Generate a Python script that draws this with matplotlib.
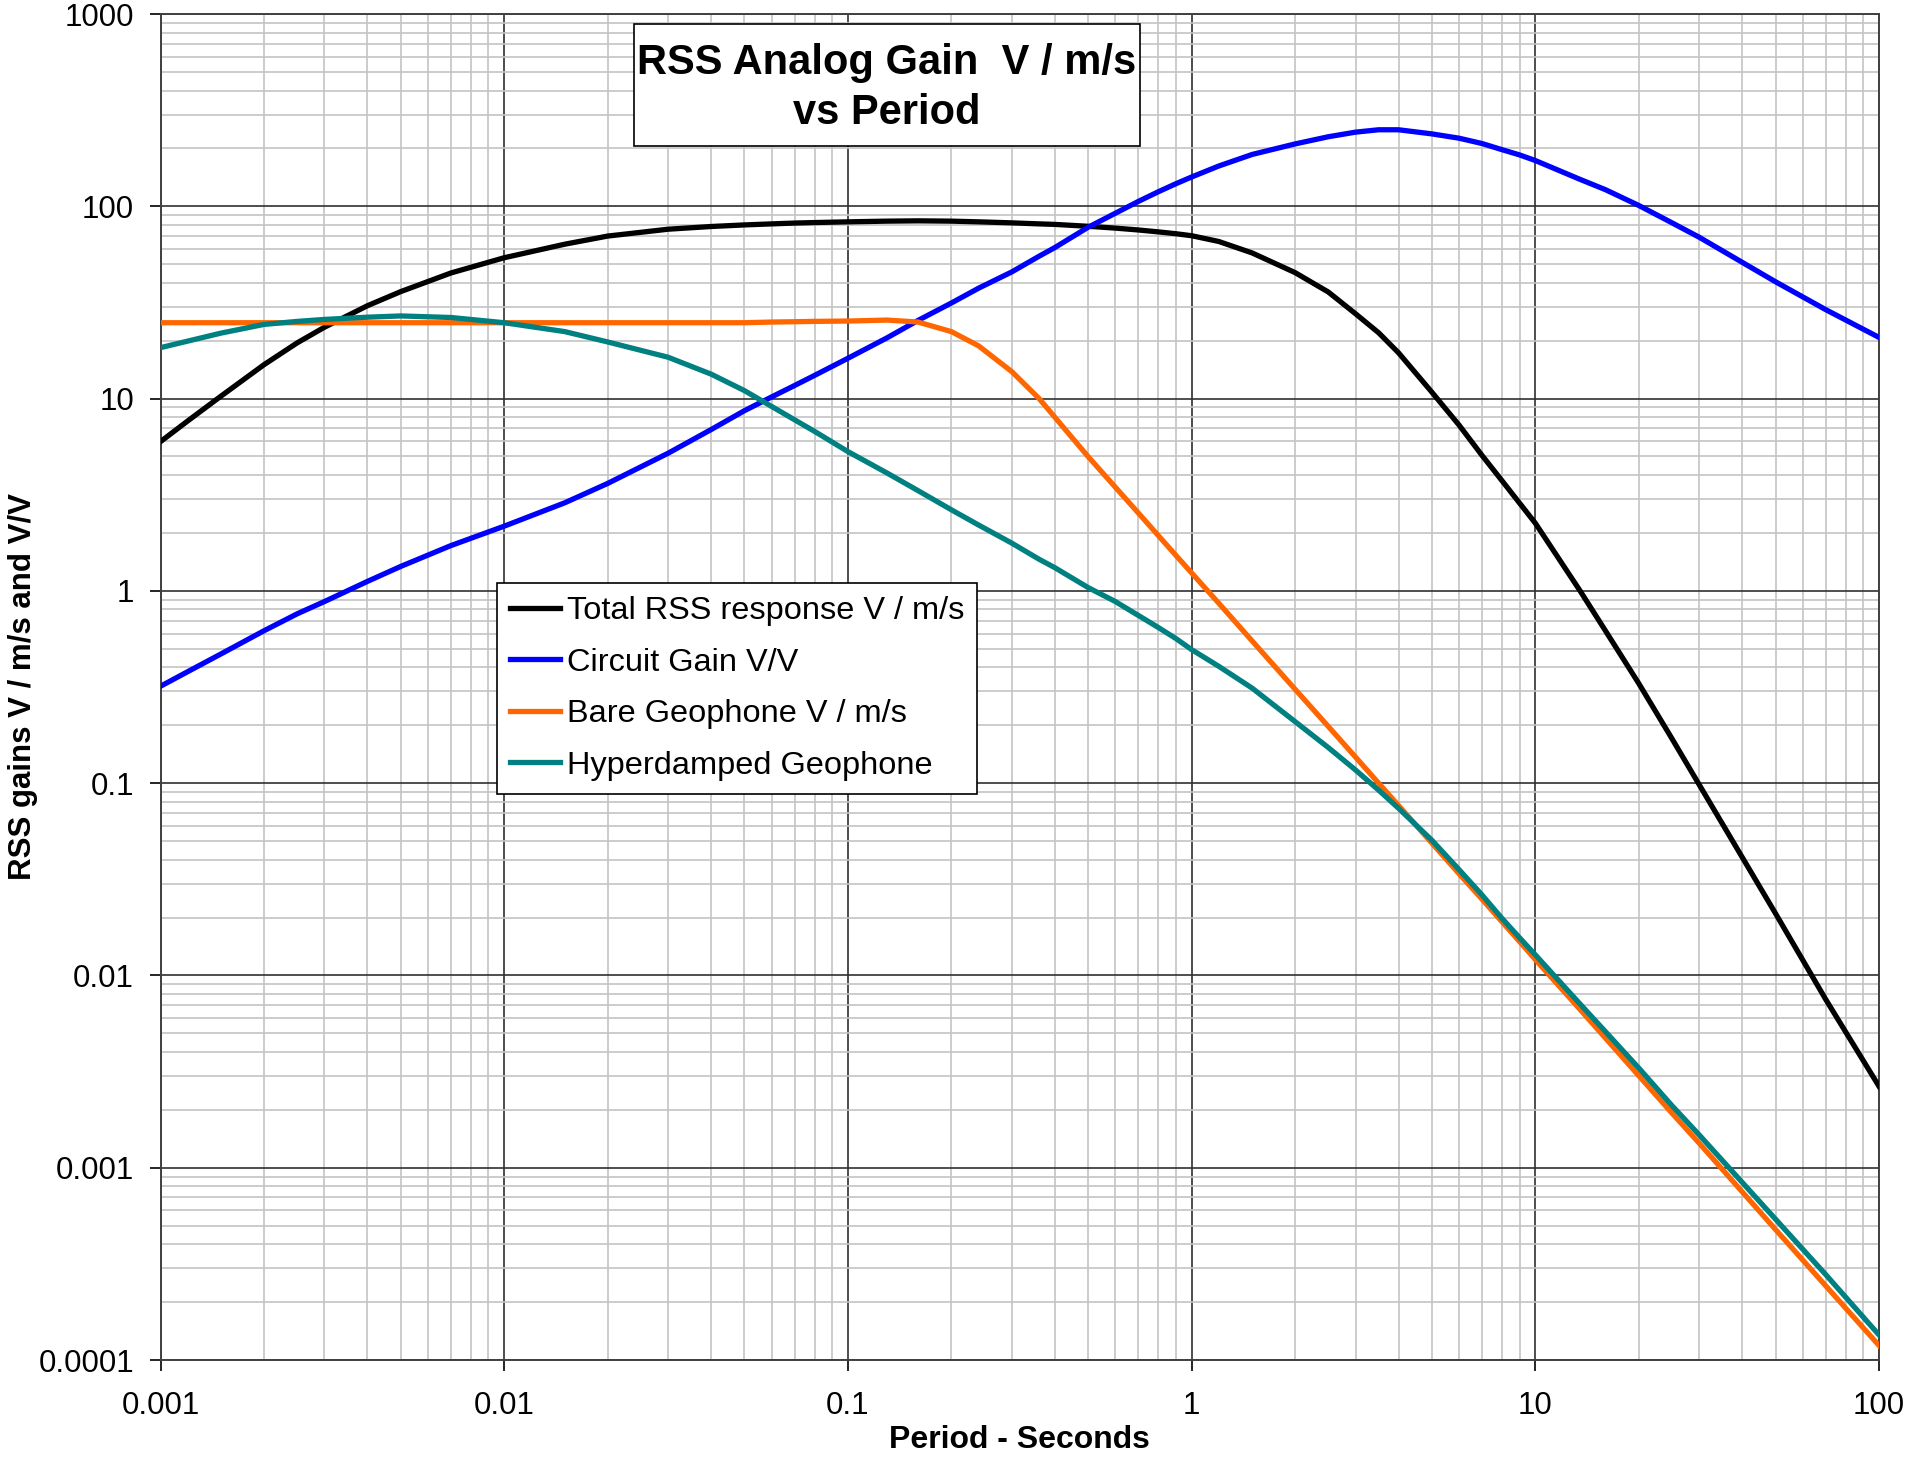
import matplotlib
matplotlib.use("Agg")
import matplotlib.pyplot as plt
import numpy as np
from matplotlib.patches import Rectangle

plt.rcParams['font.family'] = ['Liberation Sans', 'DejaVu Sans']

# period in seconds (shared by all four curves)
period = [0.001, 0.0012, 0.0015, 0.002, 0.0025, 0.003, 0.004, 0.005, 0.007, 0.01,
          0.015, 0.02, 0.03, 0.04, 0.05, 0.06, 0.07, 0.08, 0.1, 0.13,
          0.16, 0.2, 0.24, 0.3, 0.36, 0.4, 0.5, 0.6, 0.7, 0.8,
          0.9, 1, 1.2, 1.5, 2, 2.5, 3, 3.5, 4, 5,
          6, 7, 8, 9, 10, 13.5, 16, 20, 25, 30, 50, 70, 100]

total_rss = [5.97, 7.65, 10.3, 15.0, 19.5, 23.5, 30.4, 36, 45, 54,
             63.5, 70, 76, 78.5, 80, 81, 81.8, 82.3, 83, 83.7,
             84, 83.7, 83, 82, 81, 80.5, 78.7, 77, 75.3, 73.6,
             72, 70.3, 65.6, 57.2, 45.2, 35.8, 27.6, 22, 17.3, 10.8,
             7.28, 5.06, 3.74, 2.86, 2.25, 1.0, 0.62, 0.33, 0.17, 0.098,
             0.021, 0.0075, 0.00265]

circuit_gain = [0.319, 0.38, 0.47, 0.62, 0.76, 0.88, 1.12, 1.34, 1.72, 2.17,
                2.87, 3.62, 5.2, 6.9, 8.65, 10.2, 11.7, 13.2, 16.2, 20.7,
                25.5, 31.4, 37.5, 45.6, 55, 61, 77.8, 92, 106, 119,
                131, 142, 162, 186, 211, 230, 243, 250, 250, 238,
                226, 212, 197, 185, 173, 138, 122, 101, 82, 69,
                40.5, 29, 20.8]

bare_geophone = [24.8, 24.8, 24.8, 24.8, 24.8, 24.8, 24.8, 24.8, 24.8, 24.8,
                 24.8, 24.8, 24.8, 24.8, 24.8, 25.0, 25.1, 25.2, 25.3, 25.6,
                 25.0, 22.3, 18.8, 13.8, 10.0, 8.0, 4.99, 3.46, 2.54, 1.94,
                 1.53, 1.24, 0.862, 0.549, 0.308, 0.197, 0.1365, 0.100, 0.0765, 0.0488,
                 0.0338, 0.0249, 0.019, 0.015, 0.0121, 0.00665, 0.00472, 0.00301, 0.00192, 0.00134,
                 0.000477, 0.000243, 0.000119]

hyperdamped = [18.4, 19.9, 21.9, 24.3, 25.2, 25.8, 26.5, 26.9, 26.4, 24.8,
               22.3, 19.7, 16.4, 13.4, 11.0, 9.1, 7.75, 6.75, 5.3, 4.1,
               3.32, 2.64, 2.2, 1.77, 1.46, 1.32, 1.04, 0.88, 0.745, 0.645,
               0.565, 0.495, 0.405, 0.312, 0.209, 0.153, 0.117, 0.092, 0.074, 0.0505,
               0.0355, 0.0262, 0.0198, 0.0157, 0.0128, 0.0071, 0.0051, 0.0033, 0.0021, 0.00148,
               0.00054, 0.000278, 0.000135]

series_names = ["Total RSS response V / m/s", "Circuit Gain V/V",
                "Bare Geophone V / m/s", "Hyperdamped Geophone"]
series_colors = ["#000000", "#0000FF", "#FF6600", "#008080"]

x_ticks = [0.001, 0.01, 0.1, 1, 10, 100]
x_labels = ["0.001", "0.01", "0.1", "1", "10", "100"]
y_ticks = [0.0001, 0.001, 0.01, 0.1, 1, 10, 100, 1000]
y_labels = ["0.0001", "0.001", "0.01", "0.1", "1", "10", "100", "1000"]

W, H = 1923, 1461
fig = plt.figure(figsize=(W / 100, H / 100), dpi=100)
ax = fig.add_axes([160.5 / W, 1 - 1360 / H, (1879 - 160.5) / W, (1360 - 14) / H])

for ys, name, col in zip([total_rss, circuit_gain, bare_geophone, hyperdamped],
                         series_names, series_colors):
    ax.plot(period, ys, color=col, lw=3.8, label=name, zorder=3)

ax.set_xscale('log')
ax.set_yscale('log')
ax.set_xlim(0.001, 100)
ax.set_ylim(0.0001, 1000)
ax.set_xticks(x_ticks, x_labels)
ax.set_yticks(y_ticks, y_labels)
ax.minorticks_on()
ax.tick_params(which='minor', length=0)
ax.tick_params(which='major', length=8, width=1.2, color='black', labelsize=22.5)
ax.tick_params(axis='x', pad=14.5)
ax.tick_params(axis='y', pad=11)

ax.grid(which='major', color='#303030', lw=1.2, zorder=1)
ax.grid(which='minor', color='#c4c4c4', lw=1.2, zorder=0)
for sp in ax.spines.values():
    sp.set_linewidth(1.4)
    sp.set_color('#404040')

ax.set_xlabel("Period - Seconds", fontsize=23, fontweight='bold', labelpad=3)
ax.set_ylabel("RSS gains V / m/s and V/V", fontsize=22.5, fontweight='bold', labelpad=0)

leg = ax.legend(loc='upper left', bbox_to_anchor=(496.7 / W, 1 - 583.3 / H),
                bbox_transform=fig.transFigure, borderaxespad=0, fontsize=23.4,
                handlelength=1.55, handletextpad=0.2, labelspacing=0.66,
                borderpad=0.4, fancybox=False, framealpha=1, edgecolor='black')
leg.get_frame().set_linewidth(1.2)
for h in leg.get_lines():
    h.set_linewidth(3.8)

# title box
box = Rectangle((633.7 / W, 1 - 146 / H), (1140.4 - 633.7) / W, (146 - 24.3) / H,
                transform=fig.transFigure, facecolor='white', edgecolor='black',
                lw=1.2, zorder=5)
fig.add_artist(box)
fig.text(887 / W, 1 - 74 / H, "RSS Analog Gain  V / m/s", ha='center', va='baseline',
         fontsize=30, fontweight='bold', zorder=6)
fig.text(887 / W, 1 - 124 / H, "vs Period", ha='center', va='baseline',
         fontsize=30, fontweight='bold', zorder=6)

fig.savefig("out.png", dpi=100)
